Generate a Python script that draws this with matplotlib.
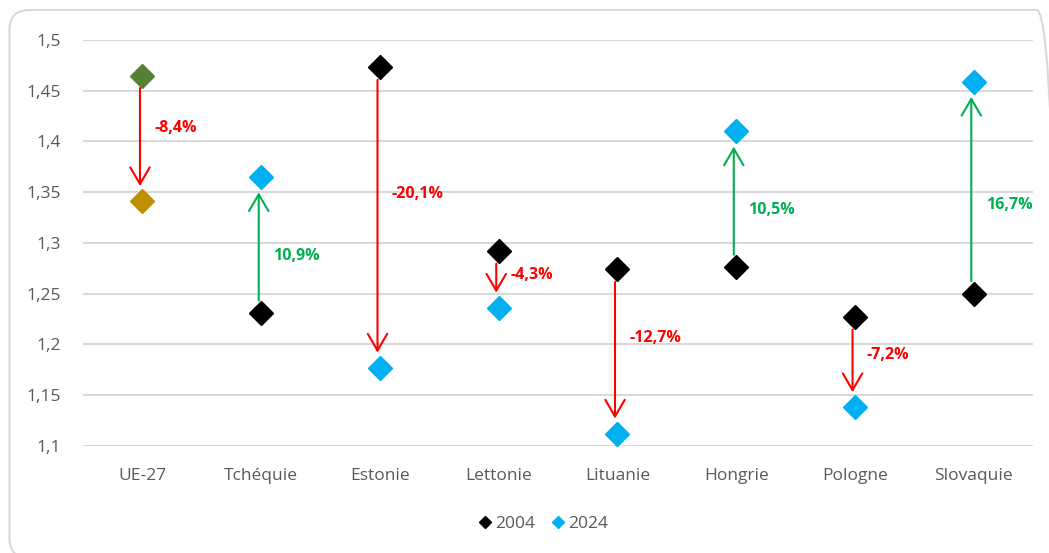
import matplotlib
matplotlib.use("Agg")
import matplotlib.pyplot as plt
from matplotlib.patches import FancyArrowPatch, FancyBboxPatch
from matplotlib.transforms import IdentityTransform
from matplotlib.lines import Line2D
import numpy as np

plt.rcParams['font.family'] = ['Open Sans', 'DejaVu Sans']

pays = ["UE-27", "Tchéquie", "Estonie", "Lettonie", "Lituanie", "Hongrie", "Pologne", "Slovaquie"]
val_2004 = [1.465, 1.231, 1.473, 1.292, 1.274, 1.276, 1.227, 1.250]
val_2024 = [1.341, 1.365, 1.177, 1.236, 1.112, 1.410, 1.138, 1.459]
variation = ["-8,4%", "10,9%", "-20,1%", "-4,3%", "-12,7%", "10,5%", "-7,2%", "16,7%"]
yticks = [1.1, 1.15, 1.2, 1.25, 1.3, 1.35, 1.4, 1.45, 1.5]

c_2004 = "#000000"
c_2024 = "#00B0F0"
c_ue_2004 = "#548235"
c_ue_2024 = "#BF8F00"
c_down = "#FF0000"
c_up = "#00B050"
grey_txt = "#595959"

fig = plt.figure(figsize=(10.49, 5.53), dpi=100)
ax = fig.add_axes([0.0791, 0.1935, 0.9057, 0.7342])

# cadre arrondi (en pixels), coupe a droite et en bas comme sur l'original
cadre = FancyBboxPatch((9.5, -5), 1047, 548, boxstyle="round,pad=0,rounding_size=20",
                       transform=IdentityTransform(), fill=False, edgecolor="#D9D9D9",
                       linewidth=1.5, zorder=0)
fig.patches.append(cadre)

x = np.arange(len(pays))
ms = 12.5

# fleches
for i in range(len(pays)):
    y0, y1 = val_2004[i], val_2024[i]
    col = c_up if y1 > y0 else c_down
    arr = FancyArrowPatch((x[i] - 0.02, y0), (x[i] - 0.02, y1),
                          arrowstyle="->,head_length=0.6,head_width=0.35",
                          mutation_scale=20, color=col, linewidth=1.5,
                          shrinkA=9, shrinkB=11, zorder=2)
    ax.add_patch(arr)
    ax.text(x[i] + 0.1, y0 + 0.42 * (y1 - y0), variation[i], color=col, fontsize=11.5,
            fontweight="bold", ha="left", va="center")

cols04 = [c_ue_2004] + [c_2004] * (len(pays) - 1)
cols24 = [c_ue_2024] + [c_2024] * (len(pays) - 1)
for i in range(len(pays)):
    ax.plot(x[i], val_2004[i], marker="D", ms=ms, color=cols04[i], linestyle="none", zorder=3)
    ax.plot(x[i], val_2024[i], marker="D", ms=ms, color=cols24[i], linestyle="none", zorder=3)

ax.set_xlim(-0.5, len(pays) - 0.5)
ax.set_ylim(1.1, 1.5)
ax.set_yticks(yticks)
ax.set_yticklabels([("%g" % v).replace(".", ",") for v in yticks])
ax.set_xticks(x)
ax.set_xticklabels(pays)
ax.tick_params(axis="both", length=0, labelsize=12.5, colors=grey_txt)
ax.tick_params(axis="y", pad=16)
ax.tick_params(axis="x", pad=16)
ax.grid(axis="y", color="#D9D9D9", linewidth=1.5)
ax.set_axisbelow(True)
for s in ax.spines.values():
    s.set_visible(False)

handles = [Line2D([], [], marker="D", ms=6, color=c_2004, linestyle="none"),
           Line2D([], [], marker="D", ms=6, color=c_2024, linestyle="none")]
fig.legend(handles, ["2004", "2024"], loc="center", bbox_to_anchor=(0.517, 0.052), ncol=2,
           frameon=False, fontsize=12.5, labelcolor=grey_txt, handletextpad=0.1,
           columnspacing=0.8, handlelength=1.0)

fig.savefig("out.png", dpi=100)
